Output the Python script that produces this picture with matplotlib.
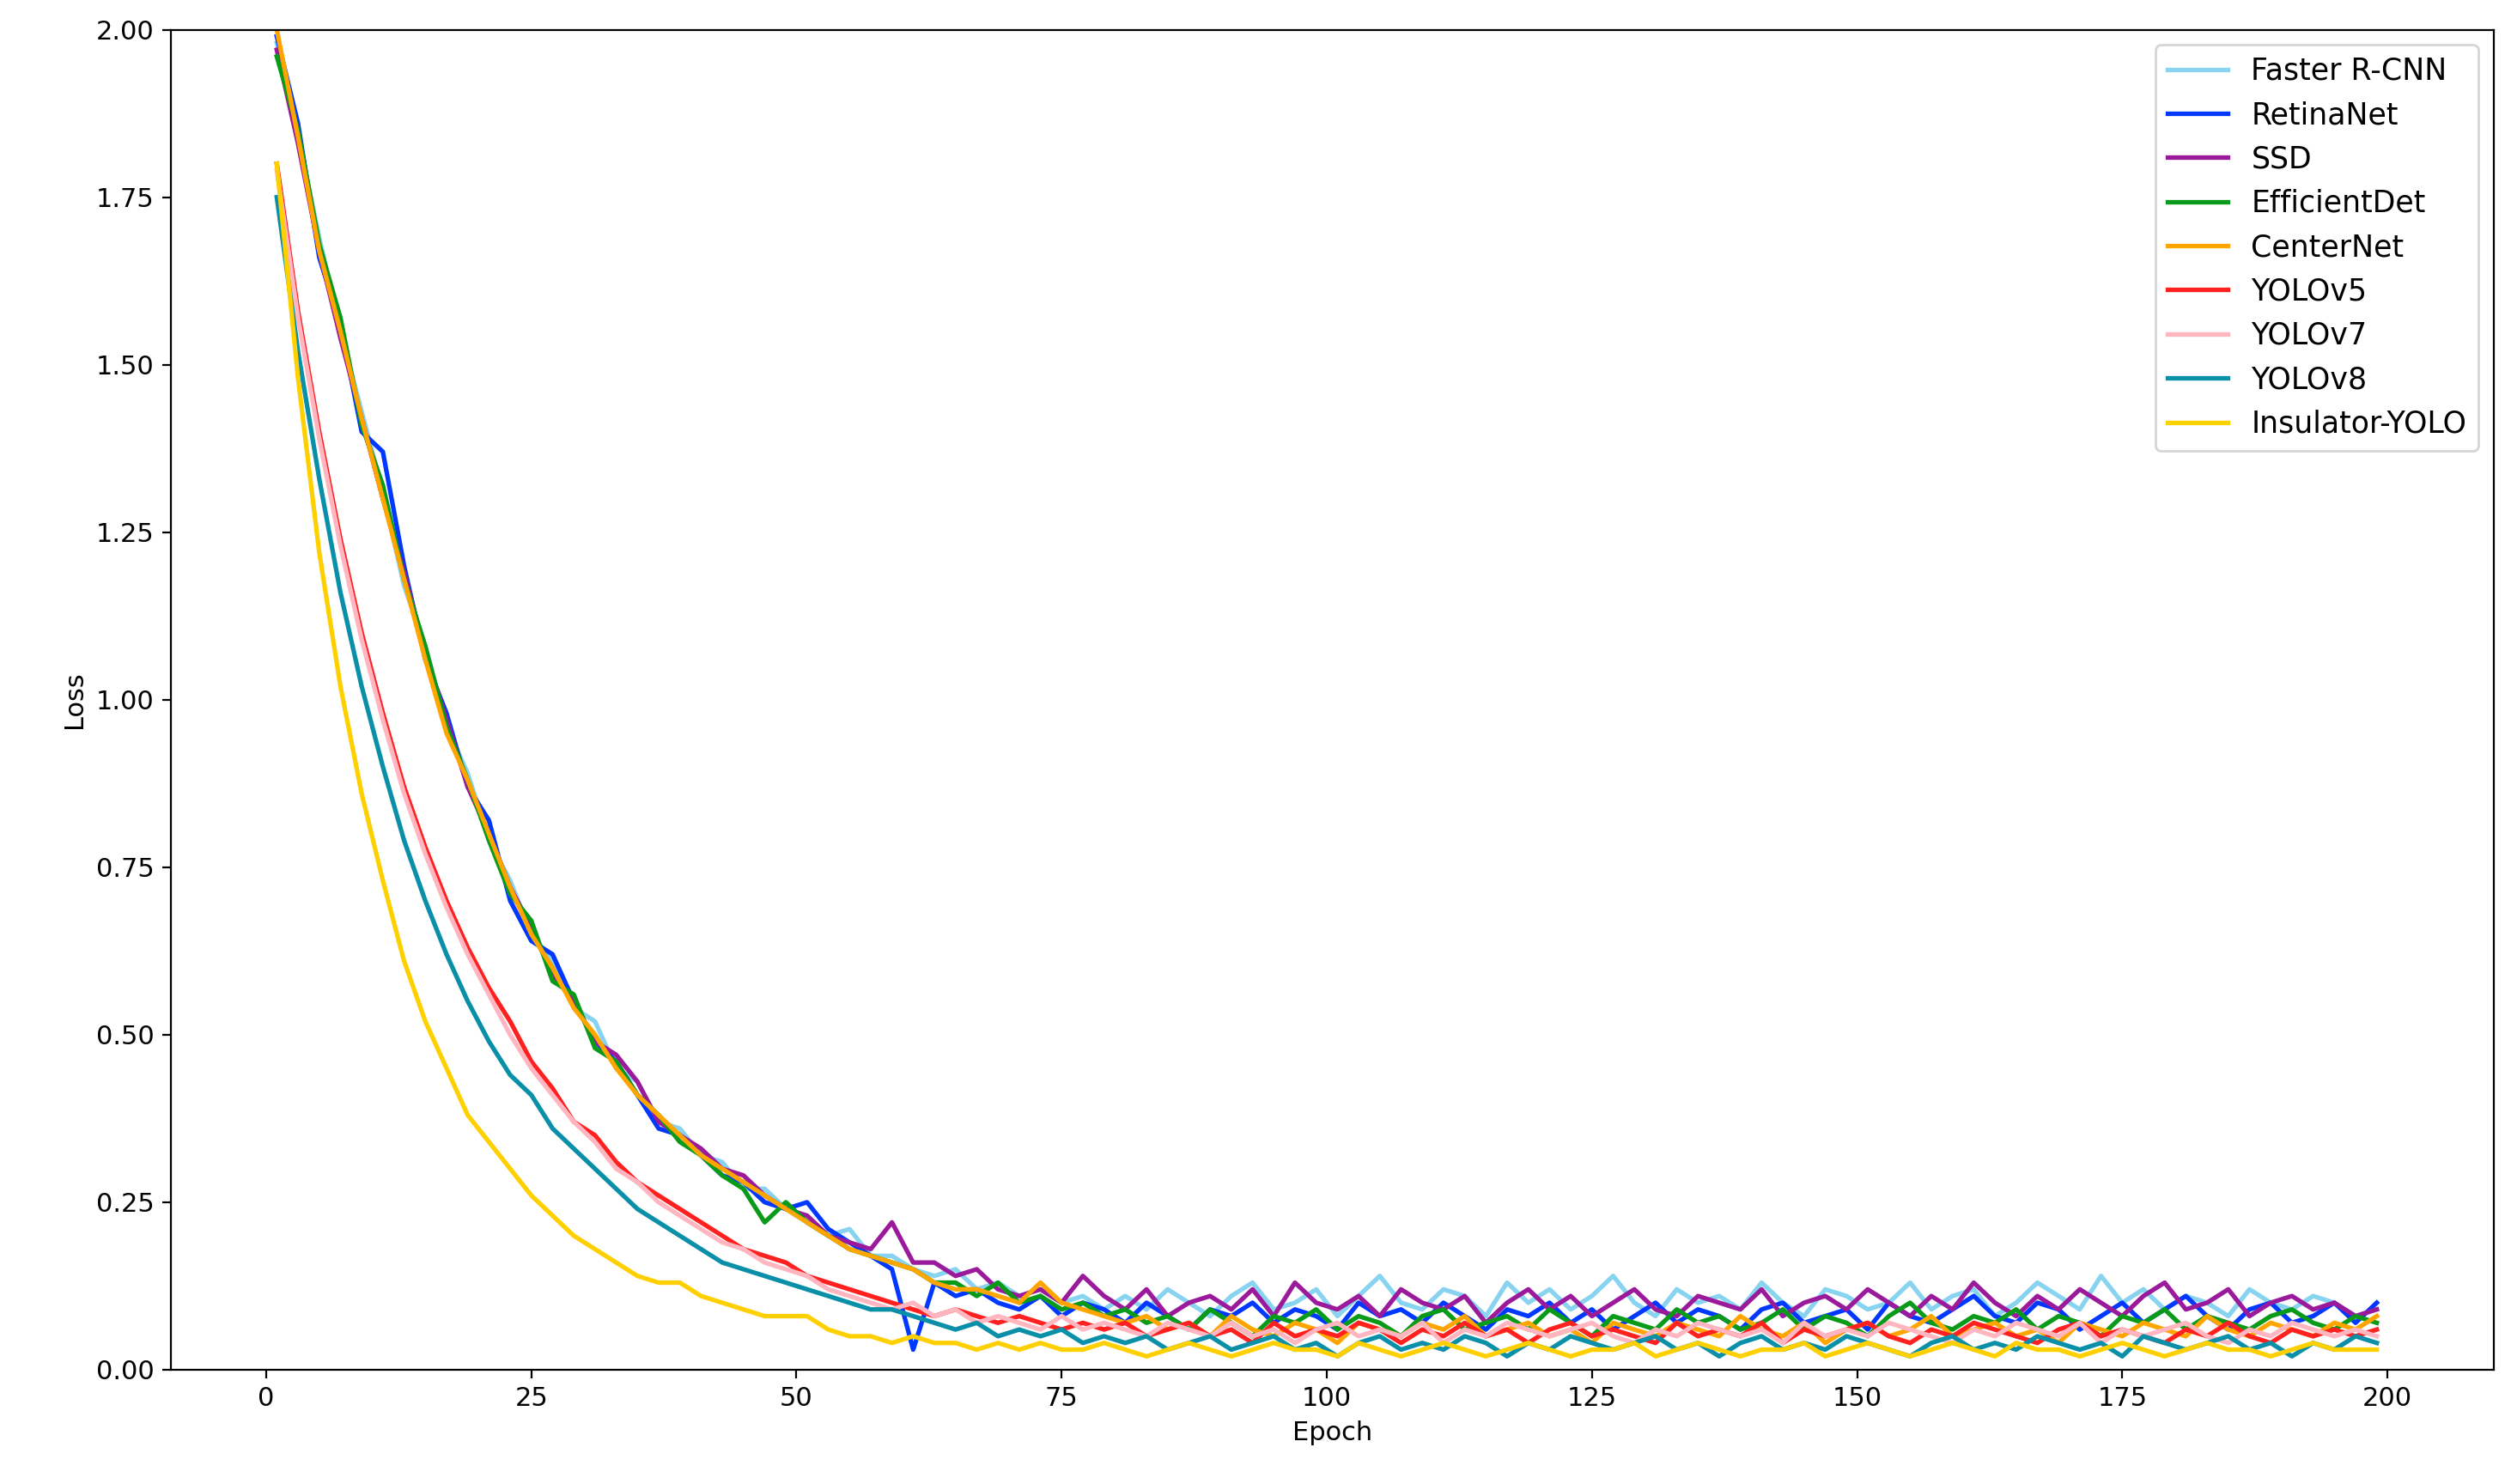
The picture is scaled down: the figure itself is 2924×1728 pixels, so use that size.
"""Loss curves for the detector comparison (epochs 1..199, every second epoch)."""
import matplotlib
matplotlib.use("Agg")
import matplotlib.pyplot as plt
import numpy as np

# values, one value every 2 epochs starting at epoch 1
faster_rcnn = [1.98, 1.84, 1.69, 1.55, 1.43, 1.31, 1.17, 1.08, 0.96, 0.89, 0.79, 0.73, 0.65, 0.61, 0.54, 0.52, 0.45, 0.43, 0.37, 0.36,
               0.32, 0.31, 0.27, 0.27, 0.24, 0.22, 0.2, 0.21, 0.17, 0.17, 0.15, 0.14, 0.15, 0.12, 0.13, 0.11, 0.12, 0.1, 0.11, 0.09,
               0.11, 0.09, 0.12, 0.1, 0.08, 0.11, 0.13, 0.09, 0.1, 0.12, 0.08, 0.11, 0.14, 0.1, 0.09, 0.12, 0.11, 0.08, 0.13, 0.1,
               0.12, 0.09, 0.11, 0.14, 0.1, 0.08, 0.12, 0.1, 0.11, 0.09, 0.13, 0.1, 0.08, 0.12, 0.11, 0.09, 0.1, 0.13, 0.09, 0.11,
               0.12, 0.08, 0.1, 0.13, 0.11, 0.09, 0.14, 0.1, 0.12, 0.09, 0.11, 0.1, 0.08, 0.12, 0.1, 0.09, 0.11, 0.1, 0.08, 0.09]
retinanet = [1.99, 1.86, 1.66, 1.56, 1.4, 1.37, 1.2, 1.06, 0.98, 0.87, 0.82, 0.7, 0.64, 0.62, 0.55, 0.49, 0.46, 0.41, 0.36, 0.35,
             0.32, 0.29, 0.28, 0.25, 0.24, 0.25, 0.21, 0.19, 0.17, 0.15, 0.03, 0.13, 0.11, 0.12, 0.1, 0.09, 0.11, 0.08, 0.1, 0.09,
             0.07, 0.1, 0.08, 0.06, 0.09, 0.08, 0.1, 0.07, 0.09, 0.08, 0.06, 0.1, 0.08, 0.09, 0.07, 0.1, 0.08, 0.06, 0.09, 0.08,
             0.1, 0.07, 0.09, 0.06, 0.08, 0.1, 0.07, 0.09, 0.08, 0.06, 0.09, 0.1, 0.07, 0.08, 0.09, 0.06, 0.1, 0.08, 0.07, 0.09,
             0.11, 0.08, 0.07, 0.1, 0.09, 0.06, 0.08, 0.1, 0.07, 0.09, 0.11, 0.08, 0.06, 0.09, 0.1, 0.07, 0.08, 0.1, 0.07, 0.1]
ssd = [1.97, 1.83, 1.67, 1.54, 1.42, 1.3, 1.19, 1.07, 0.97, 0.87, 0.8, 0.72, 0.66, 0.59, 0.55, 0.49, 0.47, 0.43, 0.37, 0.35,
       0.33, 0.3, 0.29, 0.26, 0.24, 0.23, 0.2, 0.19, 0.18, 0.22, 0.16, 0.16, 0.14, 0.15, 0.12, 0.11, 0.12, 0.1, 0.14, 0.11,
       0.09, 0.12, 0.08, 0.1, 0.11, 0.09, 0.12, 0.08, 0.13, 0.1, 0.09, 0.11, 0.08, 0.12, 0.1, 0.09, 0.11, 0.07, 0.1, 0.12,
       0.09, 0.11, 0.08, 0.1, 0.12, 0.09, 0.08, 0.11, 0.1, 0.09, 0.12, 0.08, 0.1, 0.11, 0.09, 0.12, 0.1, 0.08, 0.11, 0.09,
       0.13, 0.1, 0.08, 0.11, 0.09, 0.12, 0.1, 0.08, 0.11, 0.13, 0.09, 0.1, 0.12, 0.08, 0.1, 0.11, 0.09, 0.1, 0.08, 0.09]
efficientdet = [1.96, 1.85, 1.68, 1.57, 1.41, 1.32, 1.18, 1.08, 0.96, 0.88, 0.79, 0.71, 0.67, 0.58, 0.56, 0.48, 0.46, 0.41, 0.38, 0.34,
                0.32, 0.29, 0.27, 0.22, 0.25, 0.22, 0.2, 0.18, 0.17, 0.16, 0.15, 0.13, 0.13, 0.11, 0.13, 0.1, 0.11, 0.09, 0.1, 0.08,
                0.09, 0.07, 0.08, 0.06, 0.09, 0.07, 0.05, 0.08, 0.07, 0.09, 0.06, 0.08, 0.07, 0.05, 0.08, 0.09, 0.06, 0.07, 0.08, 0.06,
                0.09, 0.07, 0.05, 0.08, 0.07, 0.06, 0.09, 0.07, 0.08, 0.06, 0.07, 0.09, 0.06, 0.08, 0.07, 0.05, 0.08, 0.1, 0.07, 0.06,
                0.08, 0.07, 0.09, 0.06, 0.08, 0.07, 0.05, 0.08, 0.07, 0.09, 0.06, 0.08, 0.07, 0.06, 0.08, 0.09, 0.07, 0.06, 0.08, 0.07]
centernet = [2.0, 1.84, 1.67, 1.55, 1.42, 1.3, 1.18, 1.06, 0.95, 0.88, 0.8, 0.72, 0.65, 0.6, 0.54, 0.5, 0.45, 0.41, 0.38, 0.35,
             0.32, 0.3, 0.28, 0.26, 0.24, 0.22, 0.2, 0.18, 0.17, 0.16, 0.15, 0.13, 0.12, 0.12, 0.11, 0.1, 0.13, 0.1, 0.09, 0.08,
             0.07, 0.08, 0.06, 0.07, 0.05, 0.08, 0.06, 0.05, 0.07, 0.06, 0.04, 0.07, 0.06, 0.05, 0.07, 0.06, 0.08, 0.05, 0.06, 0.07,
             0.05, 0.06, 0.04, 0.07, 0.06, 0.05, 0.07, 0.06, 0.05, 0.08, 0.06, 0.05, 0.07, 0.04, 0.06, 0.07, 0.05, 0.06, 0.08, 0.05,
             0.06, 0.07, 0.05, 0.06, 0.04, 0.07, 0.06, 0.05, 0.07, 0.06, 0.05, 0.08, 0.06, 0.05, 0.07, 0.06, 0.05, 0.07, 0.06, 0.08]
yolov5 = [1.8, 1.58, 1.4, 1.24, 1.1, 0.98, 0.87, 0.78, 0.7, 0.63, 0.57, 0.52, 0.46, 0.42, 0.37, 0.35, 0.31, 0.28, 0.26, 0.24,
          0.22, 0.2, 0.18, 0.17, 0.16, 0.14, 0.13, 0.12, 0.11, 0.1, 0.09, 0.08, 0.09, 0.08, 0.07, 0.08, 0.07, 0.06, 0.07, 0.06,
          0.07, 0.05, 0.06, 0.07, 0.05, 0.06, 0.04, 0.07, 0.05, 0.06, 0.05, 0.07, 0.06, 0.04, 0.06, 0.05, 0.07, 0.05, 0.06, 0.04,
          0.06, 0.07, 0.05, 0.06, 0.05, 0.04, 0.07, 0.05, 0.06, 0.05, 0.07, 0.04, 0.06, 0.05, 0.06, 0.07, 0.05, 0.04, 0.06, 0.05,
          0.07, 0.06, 0.05, 0.04, 0.06, 0.07, 0.05, 0.06, 0.05, 0.04, 0.06, 0.05, 0.07, 0.05, 0.04, 0.06, 0.05, 0.06, 0.05, 0.06]
yolov7 = [1.79, 1.57, 1.39, 1.23, 1.09, 0.97, 0.86, 0.77, 0.69, 0.62, 0.56, 0.5, 0.45, 0.41, 0.37, 0.34, 0.3, 0.28, 0.25, 0.23,
          0.21, 0.19, 0.18, 0.16, 0.15, 0.14, 0.12, 0.11, 0.1, 0.09, 0.1, 0.08, 0.09, 0.07, 0.08, 0.07, 0.06, 0.08, 0.06, 0.07,
          0.06, 0.05, 0.07, 0.06, 0.05, 0.07, 0.05, 0.06, 0.04, 0.06, 0.07, 0.05, 0.06, 0.05, 0.07, 0.04, 0.06, 0.05, 0.07, 0.06,
          0.05, 0.06, 0.07, 0.05, 0.04, 0.06, 0.05, 0.07, 0.06, 0.05, 0.06, 0.04, 0.07, 0.05, 0.06, 0.05, 0.07, 0.06, 0.05, 0.04,
          0.06, 0.05, 0.07, 0.06, 0.05, 0.07, 0.04, 0.06, 0.05, 0.06, 0.07, 0.05, 0.04, 0.06, 0.05, 0.07, 0.06, 0.05, 0.06, 0.05]
yolov8 = [1.75, 1.52, 1.33, 1.16, 1.02, 0.9, 0.79, 0.7, 0.62, 0.55, 0.49, 0.44, 0.41, 0.36, 0.33, 0.3, 0.27, 0.24, 0.22, 0.2,
          0.18, 0.16, 0.15, 0.14, 0.13, 0.12, 0.11, 0.1, 0.09, 0.09, 0.08, 0.07, 0.06, 0.07, 0.05, 0.06, 0.05, 0.06, 0.04, 0.05,
          0.04, 0.05, 0.03, 0.04, 0.05, 0.03, 0.04, 0.05, 0.03, 0.04, 0.02, 0.04, 0.05, 0.03, 0.04, 0.03, 0.05, 0.04, 0.02, 0.04,
          0.03, 0.05, 0.04, 0.03, 0.04, 0.05, 0.03, 0.04, 0.02, 0.04, 0.05, 0.03, 0.04, 0.03, 0.05, 0.04, 0.03, 0.02, 0.04, 0.05,
          0.03, 0.04, 0.03, 0.05, 0.04, 0.03, 0.04, 0.02, 0.05, 0.04, 0.03, 0.04, 0.05, 0.03, 0.04, 0.02, 0.04, 0.03, 0.05, 0.04]
insulator_yolo = [1.8, 1.48, 1.22, 1.02, 0.86, 0.73, 0.61, 0.52, 0.45, 0.38, 0.34, 0.3, 0.26, 0.23, 0.2, 0.18, 0.16, 0.14, 0.13, 0.13,
                  0.11, 0.1, 0.09, 0.08, 0.08, 0.08, 0.06, 0.05, 0.05, 0.04, 0.05, 0.04, 0.04, 0.03, 0.04, 0.03, 0.04, 0.03, 0.03, 0.04,
                  0.03, 0.02, 0.03, 0.04, 0.03, 0.02, 0.03, 0.04, 0.03, 0.03, 0.02, 0.04, 0.03, 0.02, 0.03, 0.04, 0.03, 0.02, 0.03, 0.04,
                  0.03, 0.02, 0.03, 0.03, 0.04, 0.02, 0.03, 0.04, 0.03, 0.02, 0.03, 0.03, 0.04, 0.02, 0.03, 0.04, 0.03, 0.02, 0.03, 0.04,
                  0.03, 0.02, 0.04, 0.03, 0.03, 0.02, 0.03, 0.04, 0.03, 0.02, 0.03, 0.04, 0.03, 0.03, 0.02, 0.03, 0.04, 0.03, 0.03, 0.03]

series = [
    ("Faster R-CNN", faster_rcnn, "#87d3f0"),
    ("RetinaNet", retinanet, "#0038ff"),
    ("SSD", ssd, "#9b1a9b"),
    ("EfficientDet", efficientdet, "#0a9a1a"),
    ("CenterNet", centernet, "#ffa500"),
    ("YOLOv5", yolov5, "#ff2020"),
    ("YOLOv7", yolov7, "#ffb6c1"),
    ("YOLOv8", yolov8, "#0a8fa8"),
    ("Insulator-YOLO", insulator_yolo, "#ffd000"),
]

fig = plt.figure(figsize=(14.62, 8.64), dpi=200)
ax = fig.add_axes([0.068, 0.077, 0.925, 0.903])
for label, values, color in series:
    epochs = 1 + 2 * np.arange(len(values))
    ax.plot(epochs, values, label=label, color=color, linewidth=1.9)

ax.set_ylim(0, 2.0)
ax.set_xlim(-9, 210)
ax.set_yticks(np.arange(0, 2.01, 0.25))
ax.set_xticks(np.arange(0, 201, 25))
ax.tick_params(labelsize=11)
ax.set_xlabel("Epoch", fontsize=11)
ax.set_ylabel("Loss", fontsize=11)
ax.legend(loc="upper right", fontsize=12.5)
fig.savefig("out.png", dpi=200)
